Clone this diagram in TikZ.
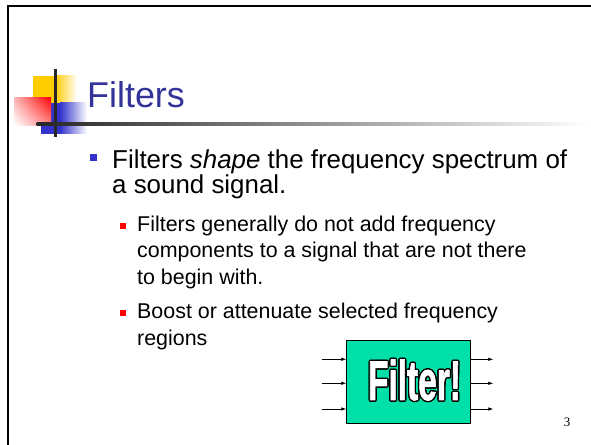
\documentclass[tikz,border=0pt]{standalone}
\usepackage{fontspec}
\setmainfont{Liberation Sans}
\newfontfamily\pagefont{Liberation Serif}
\newfontfamily\stampfont{Liberation Sans}[BoldFeatures={FakeBold=1.6}]
\usetikzlibrary{arrows.meta,shadings}
\definecolor{titleblue}{HTML}{333399}
\definecolor{bulletblue}{HTML}{3333CC}
\definecolor{bulletred}{HTML}{FF0000}
\definecolor{cornergold}{HTML}{FFCC00}
\definecolor{filtergreen}{HTML}{00E0A8}

\begin{document}
\begin{tikzpicture}[x=1bp,y=1bp,text=black,
  signal/.style={-{Latex[length=5bp,width=3.6bp]},line width=.8pt},
  heading/.style={font=\fontsize{36}{40}\selectfont,text=titleblue,inner sep=0pt},
  point/.style={font=\fontsize{26}{26}\selectfont,align=left,inner sep=0pt},
  detail/.style={font=\fontsize{21.5}{26.7}\selectfont,align=left,inner sep=0pt},
  stampletters/.style={font=\stampfont\bfseries\fontsize{56}{56}\selectfont,inner sep=0pt}]
\useasboundingbox (0,0) rectangle (591,445);
\fill[white] (0,0) rectangle (591,445);

% SLIDE FRAME
\draw[line width=2.3bp] (7.8,0) -- (7.8,438.8) -- (591,438.8);

% CORNER ORNAMENT: three fading squares and the cross of rules
\fill[cornergold] (33,342.3) rectangle (55,369.3);
\shade[left color=cornergold,right color=white] (55,342.3) rectangle (77,369.3);
\fill[bulletblue] (41,311) rectangle (60,342.3);
\shade[left color=bulletblue,right color=white] (60,311) rectangle (87,342.3);
\shade[upper right=red,upper left=red!30,lower right=red!45,lower left=white]
  (14.7,319.3) rectangle (51,347.3);
\draw[line width=3bp,black!85] (55.7,308) -- (55.7,376);
\shade[left color=black!85,middle color=black!22,right color=white]
  (36.7,319.5) rectangle (591,322.5);

% TITLE
\node[heading,anchor=base west] (title) at (87,337) {Filters};

% BULLETS (anchored on the baseline of each last line)
\fill[bulletblue] (90,284) rectangle (97,291);
\node[point,anchor=base west] (point) at (112,251)
  {Filters \textit{shape} the frequency spectrum of\\a sound signal.};
\fill[bulletred] (120,216.3) rectangle (126,222.3);
\node[detail,anchor=base west] (detaila) at (137,160.6)
  {Filters generally do not add frequency\\components to a signal that are not there\\to begin with.};
\fill[bulletred] (120,129) rectangle (126,135);
\node[detail,anchor=base west] (detailb) at (137,99.8)
  {Boost or attenuate selected frequency\\regions};

% FILTER BLOCK with three signals in and out
\node[draw=black,line width=.8pt,fill=filtergreen,minimum width=123.3bp,
  minimum height=83.3bp,inner sep=0pt] (filter) at (408.35,63.35) {};
\foreach \y [count=\k] in {85.7,61.7,36} {
  \coordinate (in\k) at (321.7,\y);
  \coordinate (out\k) at (493.3,\y);
  \draw[signal] (in\k) -- (in\k -| filter.west);
  \draw[signal] (in\k -| filter.east) -- (out\k);
}
% outlined lettering: black copies round a white one
\foreach \a in {0,30,...,330}
  \node[stampletters,text=black] (rim\a) at ([shift={(\a:1.4bp)}]414.5,65)
    {\scalebox{.6}[1]{Filter!}};
\node[stampletters,text=white] (stamp) at (414.5,65) {\scalebox{.6}[1]{Filter!}};

% PAGE NUMBER
\node[anchor=base,inner sep=0pt,font=\pagefont\fontsize{13}{15}\selectfont]
  (pagenum) at (567,18) {3};
\end{tikzpicture}
\end{document}
